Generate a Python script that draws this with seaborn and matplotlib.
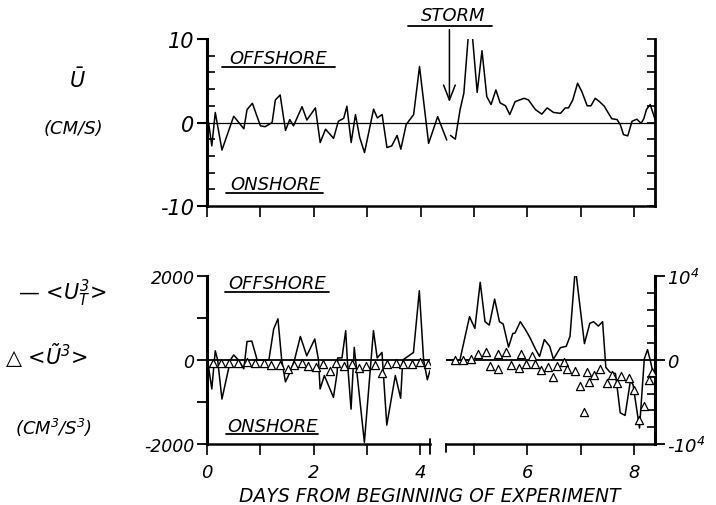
import matplotlib
matplotlib.use("Agg")
import matplotlib.pyplot as plt
from matplotlib.lines import Line2D
import numpy as np
import pandas as pd
import seaborn as sns

# ---------------- data ----------------
# Top panel: mean current U-bar (cm/s), two segments (gap just before the storm arrow)
top_day_1 = [0.03, 0.09, 0.155, 0.28, 0.5, 0.69, 0.75, 0.85, 1.0, 1.09, 1.22, 1.28, 1.37, 1.47,
             1.55, 1.62, 1.78, 1.87, 2.03, 2.12, 2.22, 2.37, 2.46, 2.56, 2.62, 2.70, 2.78, 2.86,
             2.95, 3.12, 3.19, 3.28, 3.37, 3.46, 3.56, 3.63, 3.73, 3.87, 3.98, 4.15, 4.32, 4.49]
top_u_1 = [0, -2.8, 1.2, -3.3, 0.75, -0.75, 1.55, 2.3, -0.4, -0.5, 0, 2.7, 3.3, -0.95,
           0.35, -0.4, 1.9, 0.3, 1.75, -2.4, -0.8, -1.9, 0.15, 0.5, 1.95, -2.4, 0.95, -1.8,
           -3.6, 1.6, 0.55, 0.95, -3.0, -2.8, -1.55, -3.2, -0.25, 0.95, 6.7, -2.5, 0.7, -2.1]
top_day_2 = [4.56, 4.65, 4.74, 4.81, 4.93, 5.06, 5.15, 5.24, 5.32, 5.41, 5.49, 5.59, 5.67, 5.77,
             5.94, 6.02, 6.15, 6.27, 6.37, 6.49, 6.62, 6.71, 6.77, 6.85, 6.94, 7.02, 7.12, 7.19,
             7.27, 7.35, 7.44, 7.58, 7.68, 7.74, 7.80, 7.88, 7.96, 8.05, 8.13, 8.18, 8.23, 8.30, 8.39]
top_u_2 = [-1.55, -2.0, 1.55, 3.5, 13.4, 3.6, 8.6, 3.1, 2.15, 3.9, 2.35, 2.0, 0.95, 2.5,
           2.9, 2.7, 1.55, 1.0, 1.75, 1.2, 1.1, 1.75, 1.75, 2.7, 4.7, 3.7, 2.0, 2.0,
           2.9, 2.5, 1.95, 0.45, 0.35, -0.25, -1.45, -1.6, 0.15, 0.4, -0.1, 0.45, 1.55, 2.15, 0.4]

# Bottom panel, left part (scale +-2000): -<U_T^3> line
bl_day = [0.01, 0.09, 0.155, 0.2, 0.28, 0.44, 0.5, 0.59, 0.69, 0.75, 0.84, 0.94, 1.16, 1.25,
          1.33, 1.4, 1.47, 1.55, 1.64, 1.75, 1.87, 2.02, 2.09, 2.12, 2.2, 2.37, 2.44, 2.45,
          2.53, 2.6, 2.63, 2.7, 2.76, 2.95, 3.12, 3.19, 3.28, 3.37, 3.53, 3.63, 3.67, 3.87,
          3.98, 4.06, 4.13, 4.18]
bl_ut3 = [0, -690, 220, 0, -930, 0, 120, 0, -210, 440, 450, 0, 0, 740,
          980, 0, -520, -310, 0, 560, 100, 500, 0, -690, -370, -890, -300, 50,
          50, 700, 0, -1170, 300, -1960, 700, 50, 180, -1550, -370, -910, 0, 180,
          1650, 0, -470, -250]
# <U~^3> triangles, left part
bl_tri_day = [0.11, 0.26, 0.42, 0.59, 0.75, 0.9, 1.06, 1.2, 1.37, 1.51, 1.63, 1.78, 1.9, 2.05,
              2.18, 2.31, 2.42, 2.57, 2.71, 2.84, 2.98, 3.15, 3.28, 3.38, 3.54, 3.68, 3.85,
              3.99, 4.14]
bl_tri = [-71, -71, -80, -80, -40, -80, -71, -119, -119, -214, -119, -71, -135, -175,
          -95, -254, -80, -150, -95, -190, -135, -119, -310, -95, -80, -95, -95, -40, -95]

# Bottom panel, right part (scale +-10^4)
br_day = [4.5, 4.74, 4.92, 5.02, 5.12, 5.21, 5.29, 5.39, 5.48, 5.55, 5.65, 5.73, 5.77, 5.87,
          5.96, 6.05, 6.15, 6.23, 6.32, 6.42, 6.49, 6.62, 6.73, 6.8, 6.9, 7.07, 7.17, 7.24,
          7.33, 7.41, 7.47, 7.55, 7.65, 7.74, 7.83, 7.93, 7.98, 8.1, 8.19, 8.25, 8.3, 8.35]
br_ut3 = [0, 0, 5160, 3760, 9250, 4560, 4160, 7250, 4560, 4280, 1540, 3160, 3200, 4560,
          3680, 2670, 1350, 420, 2430, 1630, 100, 1470, 1630, 2830, 11000, 1950, 4360, 4560,
          4040, 4560, -870, -1470, -1600, -6290, -6600, -2470, -2950, -8100, 145, 1230, 0, -1470]
br_tri_day = [4.65, 4.79, 4.94, 5.07, 5.23, 5.31, 5.45, 5.46, 5.6, 5.69, 5.84, 5.88, 5.98, 6.09,
              6.15, 6.25, 6.38, 6.49, 6.55, 6.68, 6.74, 6.9, 6.99, 7.07, 7.12, 7.15, 7.25, 7.37,
              7.49, 7.58, 7.68, 7.75, 7.9, 8.0, 8.1, 8.18, 8.27, 8.33]
br_tri = [25, 25, 145, 660, 900, -660, -1100, 660, 900, -540, -940, 660, -460, 420,
          -460, -1180, -860, -2070, -660, -180, -1060, -1270, -3070, -6170, -1470, -2670, -1750, -1100,
          -2790, -1750, -2790, -1870, -2150, -3600, -7090, -5480, -2390, -1470]

# ---------------- style ----------------
sns.set_theme(style="ticks")
plt.rcParams.update({
    "font.family": ["DejaVu Sans"],
    "font.style": "italic",
    "mathtext.fontset": "dejavusans",
    "mathtext.default": "it",
    "axes.facecolor": "white",
    "figure.facecolor": "white",
    "axes.edgecolor": "black",
    "xtick.color": "black",
    "ytick.color": "black",
    "text.color": "black",
})

W, H = 716, 506
fig = plt.figure(figsize=(W / 100, H / 100), dpi=100)


def rect(l, t, r, b):
    return [l / W, 1 - b / H, (r - l) / W, (b - t) / H]


def fx(x):
    return x / W


def fy(y):
    return 1 - y / H


ax_top = fig.add_axes(rect(207, 40, 655, 207))
ax_bl = fig.add_axes(rect(207, 277, 430, 445))
ax_br = fig.add_axes(rect(446, 277, 655, 445))

LW = 1.1

# ---------------- top panel ----------------
df_top = pd.DataFrame({
    "day": top_day_1 + top_day_2,
    "u": top_u_1 + top_u_2,
    "seg": [1] * len(top_day_1) + [2] * len(top_day_2),
})
sns.lineplot(data=df_top, x="day", y="u", units="seg", estimator=None, sort=False,
             color="black", lw=LW, ax=ax_top, legend=False)
ax_top.axhline(0, color="black", lw=0.9, zorder=1)
ax_top.set_xlim(0, 8.39)
ax_top.set_ylim(-10, 10)
ax_top.set_xlabel("")
ax_top.set_ylabel("")
ax_top.set_yticks([-10, 0, 10])
ax_top.set_yticklabels(["-10", "0", "10"])
ax_top.set_yticks(np.arange(-8, 9, 2), minor=True)
ax_top.tick_params(axis="y", which="major", direction="out", length=7, width=1.5,
                   labelsize=15, pad=2)
ax_top.tick_params(axis="y", which="minor", direction="in", length=6, width=1.2)
ax_top.set_xticks(range(0, 9))
ax_top.tick_params(axis="x", direction="out", length=8, width=1.2, labelbottom=False)
ax_top.spines["top"].set_visible(False)
ax_top.spines["right"].set_visible(False)
ax_top.spines["left"].set_linewidth(2.2)
ax_top.spines["bottom"].set_linewidth(1.8)
sec = ax_top.secondary_yaxis("right")
sec.set_yticks(np.arange(-10, 11, 2))
sec.tick_params(direction="in", length=6, width=1.2, labelright=False)
sec.spines["right"].set_linewidth(2.0)

# storm arrow
ax_top.annotate("", xy=(4.54, 2.1), xytext=(4.54, 11.45), xycoords="data",
                arrowprops=dict(arrowstyle="->,head_length=0.9,head_width=0.35",
                                lw=1.1, color="black"),
                annotation_clip=False)

# ---------------- bottom left ----------------
df_bl = pd.DataFrame({"day": bl_day, "v": bl_ut3})
df_bl_tri = pd.DataFrame({"day": bl_tri_day, "v": bl_tri})
sns.lineplot(data=df_bl, x="day", y="v", estimator=None, sort=False, color="black",
             lw=LW, ax=ax_bl, legend=False)
ax_bl.axhline(0, color="black", lw=1.3, zorder=1)
sns.scatterplot(data=df_bl_tri, x="day", y="v", marker="^", s=34, facecolor="white",
                edgecolor="black", linewidth=0.9, ax=ax_bl, zorder=5, legend=False)
ax_bl.set_xlim(0, 4.18)
ax_bl.set_ylim(-2000, 2000)
ax_bl.set_xlabel("")
ax_bl.set_ylabel("")
ax_bl.set_yticks([-2000, 0, 2000])
ax_bl.set_yticklabels(["-2000", "0", "2000"])
ax_bl.set_yticks([-1000, 1000], minor=True)
ax_bl.tick_params(axis="y", which="both", direction="out", length=7, width=1.3,
                  labelsize=12.5, pad=2)
ax_bl.set_xticks([0, 2, 4])
ax_bl.set_xticklabels(["0", "2", "4"])
ax_bl.set_xticks([1, 3], minor=True)
ax_bl.tick_params(axis="x", which="both", direction="out", length=8, width=1.2,
                  labelsize=13, pad=6)
ax_bl.spines["top"].set_visible(False)
ax_bl.spines["right"].set_visible(False)
ax_bl.spines["left"].set_linewidth(2.2)
ax_bl.spines["bottom"].set_linewidth(1.8)
ax_bl.plot([1, 1], [-0.06, 0.03], transform=ax_bl.transAxes, color="black", lw=1.3,
           clip_on=False)

# ---------------- bottom right ----------------
df_br = pd.DataFrame({"day": br_day, "v": br_ut3})
df_br_tri = pd.DataFrame({"day": br_tri_day, "v": br_tri})
sns.lineplot(data=df_br, x="day", y="v", estimator=None, sort=False, color="black",
             lw=LW, ax=ax_br, legend=False)
ax_br.axhline(0, color="black", lw=1.3, zorder=1)
sns.scatterplot(data=df_br_tri, x="day", y="v", marker="^", s=34, facecolor="white",
                edgecolor="black", linewidth=0.9, ax=ax_br, zorder=5, legend=False)
ax_br.set_xlim(4.48, 8.39)
ax_br.set_ylim(-10000, 10000)
ax_br.set_xlabel("")
ax_br.set_ylabel("")
ax_br.yaxis.tick_right()
ax_br.set_yticks([-10000, 0, 10000])
ax_br.set_yticklabels([r"-$10^4$", "0", r"$10^4$"])
ax_br.set_yticks(np.arange(-8000, 8001, 2000), minor=True)
ax_br.tick_params(axis="y", which="major", direction="out", length=7, width=1.3,
                  labelsize=13, pad=2)
ax_br.tick_params(axis="y", which="minor", direction="in", length=6, width=1.2)
ax_br.set_xticks([6, 8])
ax_br.set_xticklabels(["6", "8"])
ax_br.set_xticks([5, 7], minor=True)
ax_br.tick_params(axis="x", which="both", direction="out", length=8, width=1.2,
                  labelsize=13, pad=6)
ax_br.spines["top"].set_visible(False)
ax_br.spines["left"].set_visible(False)
ax_br.spines["right"].set_linewidth(2.2)
ax_br.spines["bottom"].set_linewidth(1.8)
ax_br.plot([0, 0], [-0.05, 0.0], transform=ax_br.transAxes, color="black", lw=1.3,
           clip_on=False)

# ---------------- annotations ----------------
def underlined(text, xc, yc, x1, x2, yl, size):
    fig.text(fx(xc), fy(yc), text, ha="center", va="center", fontsize=size)
    fig.add_artist(Line2D([fx(x1), fx(x2)], [fy(yl), fy(yl)], color="black", lw=1.3))


underlined("OFFSHORE", 278, 59, 222, 335, 68, 13)
underlined("ONSHORE", 276, 185, 226, 323, 194, 13)
underlined("OFFSHORE", 277, 284, 225, 329, 293, 13)
underlined("ONSHORE", 273, 427, 226, 318, 435, 13)

fig.text(fx(453), fy(16), "STORM", ha="center", va="center", fontsize=13)
fig.add_artist(Line2D([fx(408), fx(492)], [fy(27), fy(27)], color="black", lw=1.3))

# left-hand quantity labels
fig.text(fx(77), fy(80), r"$\bar{U}$", ha="center", va="center", fontsize=15)
fig.text(fx(73), fy(129), "(CM/S)", ha="center", va="center", fontsize=13)
fig.text(fx(62), fy(293), r"— <$U_T^3$>", ha="center", va="center", fontsize=15)
fig.text(fx(46), fy(356), r"△ <$\tilde{U}^3$>", ha="center", va="center", fontsize=15)
fig.text(fx(54), fy(428), r"(CM$^3$/S$^3$)", ha="center", va="center", fontsize=13)

fig.text(fx(430), fy(497), "DAYS FROM BEGINNING OF EXPERIMENT", ha="center",
         va="center", fontsize=13.5)

fig.savefig("out.png", dpi=100, facecolor="white")
